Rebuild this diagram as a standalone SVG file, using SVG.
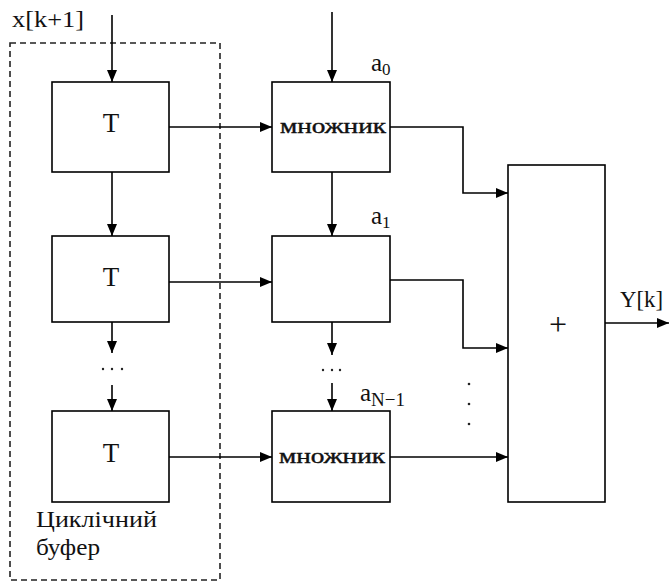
<svg xmlns="http://www.w3.org/2000/svg" width="669" height="584" viewBox="0 0 669 584">
<defs>
<marker id="ah" viewBox="0 0 12 10" refX="12" refY="5" markerWidth="12" markerHeight="10" markerUnits="userSpaceOnUse" orient="auto">
<path d="M0,0 L12,5 L0,10 Z" fill="#000"/>
</marker>
</defs>
<style>
.box{fill:#fff;stroke:#000;stroke-width:1.6}
.dash{fill:none;stroke:#222;stroke-width:1.6;stroke-dasharray:6,4}
.ln{fill:none;stroke:#000;stroke-width:1.6;marker-end:url(#ah)}
.t{font-size:27px;text-anchor:middle}
.m{font-size:21px;stroke:#111;stroke-width:0.4}
.lb{font-size:23px}
.coef{font-size:25px}
.dot{fill:#222}
</style>
<rect class="dash" x="10" y="43" width="210" height="537"/>
<g id="connectors">
<path class="ln" d="M112,15 V82"/>
<path class="ln" d="M112,172 V236"/>
<path class="ln" d="M112,322 V353"/>
<path class="ln" d="M112,385 V411"/>
<path class="ln" d="M332,12 V82"/>
<path class="ln" d="M332,172 V236"/>
<path class="ln" d="M332,322 V355"/>
<path class="ln" d="M332,383 V411"/>
<path class="ln" d="M169,127 H272"/>
<path class="ln" d="M169,282 H272"/>
<path class="ln" d="M169,457 H272"/>
<path class="ln" d="M390,127 H463 V193 H508"/>
<path class="ln" d="M390,280 H463 V348 H508"/>
<path class="ln" d="M390,457 H508"/>
<path class="ln" d="M605,323 H669"/>
</g>
<g font-family="'Liberation Serif', 'Times New Roman', serif" fill="#111">
<g id="T1"><rect class="box" x="52" y="82" width="117" height="90"/><text class="t" x="111" y="132">T</text></g>
<g id="T2"><rect class="box" x="52" y="236" width="117" height="86"/><text class="t" x="111" y="286">T</text></g>
<g id="T3"><rect class="box" x="52" y="411" width="117" height="91"/><text class="t" x="111" y="462">T</text></g>
<g id="M1"><rect class="box" x="272" y="82" width="118" height="90"/><text class="m" x="280" y="133" textLength="106" lengthAdjust="spacingAndGlyphs">множник</text></g>
<g id="M2"><rect class="box" x="272" y="236" width="118" height="86"/></g>
<g id="M3"><rect class="box" x="272" y="411" width="118" height="91"/><text class="m" x="279" y="463" textLength="106" lengthAdjust="spacingAndGlyphs">множник</text></g>
<g id="sum"><rect class="box" x="508" y="165" width="97" height="337"/><text class="t" x="558" y="335" style="font-size:32px">+</text></g>
<g id="labels">
<text class="lb" x="12" y="27" textLength="72" lengthAdjust="spacingAndGlyphs">x[k+1]</text>
<text class="coef" x="371" y="71">a<tspan style="font-size:17px" dy="4">0</tspan></text>
<text class="coef" x="371" y="224">a<tspan style="font-size:17px" dy="4">1</tspan></text>
<text class="coef" x="360" y="401">a<tspan style="font-size:19px" dy="5">N−1</tspan></text>
<text class="lb" x="620" y="307" textLength="43" lengthAdjust="spacingAndGlyphs">Y[k]</text>
<text class="lb" x="36" y="527" textLength="121" lengthAdjust="spacingAndGlyphs">Циклічний</text>
<text class="lb" x="36" y="555" textLength="64" lengthAdjust="spacingAndGlyphs">буфер</text>
</g>
</g>
<g id="dots">
<circle class="dot" cx="103" cy="369" r="1.2"/><circle class="dot" cx="112" cy="369" r="1.2"/><circle class="dot" cx="122" cy="369" r="1.2"/>
<circle class="dot" cx="323" cy="370" r="1.2"/><circle class="dot" cx="332" cy="370" r="1.2"/><circle class="dot" cx="340" cy="370" r="1.2"/>
<circle class="dot" cx="469" cy="384" r="1.3"/><circle class="dot" cx="469" cy="404" r="1.3"/><circle class="dot" cx="469" cy="424" r="1.3"/>
</g>
</svg>
